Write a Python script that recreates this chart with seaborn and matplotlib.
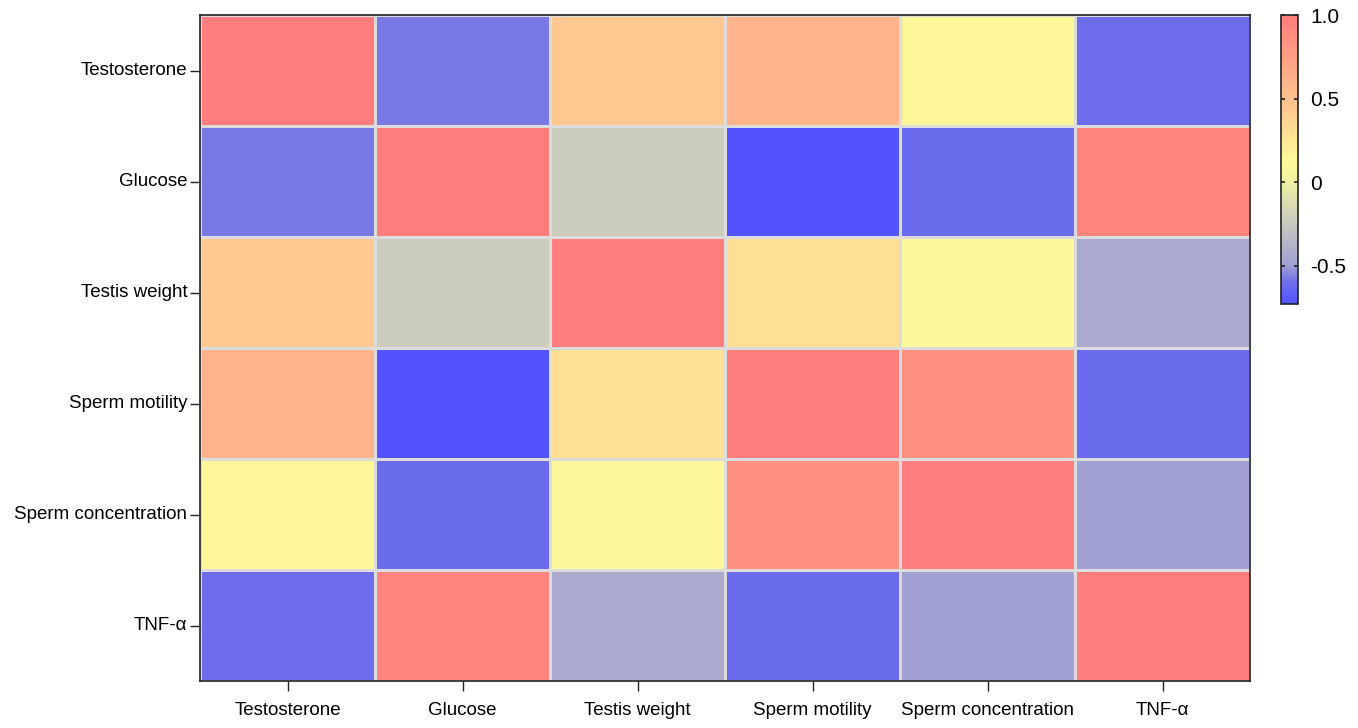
import numpy as np
import pandas as pd
import matplotlib
matplotlib.use("Agg")
import matplotlib.pyplot as plt
import seaborn as sns
from matplotlib.colors import LinearSegmentedColormap

# variables in the correlation matrix
labels = ["Testosterone", "Glucose", "Testis weight", "Sperm motility",
          "Sperm concentration", "TNF-α"]

# correlation rows
testosterone = [1.00, -0.58, 0.45, 0.60, 0.15, -0.61]
glucose = [-0.58, 1.00, -0.22, -0.73, -0.62, 0.95]
testis_weight = [0.45, -0.22, 1.00, 0.30, 0.10, -0.43]
sperm_motility = [0.60, -0.73, 0.30, 1.00, 0.85, -0.62]
sperm_conc = [0.15, -0.62, 0.10, 0.85, 1.00, -0.49]
tnf_alpha = [-0.61, 0.95, -0.43, -0.62, -0.49, 1.00]

df = pd.DataFrame([testosterone, glucose, testis_weight, sperm_motility,
                   sperm_conc, tnf_alpha], index=labels, columns=labels)

vmin, vmax = -0.73, 1.0
# colour stops: value -> colour
stops = [(-0.73, "#5252FF"), (-0.6, "#7070EA"), (-0.5, "#A0A0D4"),
         (-0.25, "#C9C9C0"), (0.0, "#EFF0A2"), (0.12, "#FFFA9A"),
         (0.5, "#FFC18E"), (1.0, "#FF7D7D")]
cmap = LinearSegmentedColormap.from_list(
    "corr", [((v - vmin) / (vmax - vmin), c) for v, c in stops])

plt.rcParams["font.family"] = ["Liberation Sans", "DejaVu Sans"]
fig = plt.figure(figsize=(13.58, 7.28), dpi=100)
ax = fig.add_axes([200 / 1358, 1 - 681 / 728, 1050 / 1358, 666 / 728])
cax = fig.add_axes([1281 / 1358, 1 - 304 / 728, 17 / 1358, 289 / 728])

sns.heatmap(df, ax=ax, cbar_ax=cax, cmap=cmap, vmin=vmin, vmax=vmax,
            linewidths=1, linecolor="#DCDCDC",
            cbar_kws={"ticks": [-0.5, 0, 0.5, 1.0]})

for s in ax.spines.values():
    s.set_visible(True)
    s.set_color("#222222")
    s.set_linewidth(1.2)

ax.tick_params(axis="both", length=7, width=1, color="#222222",
               labelcolor="black")
ax.tick_params(axis="y", labelsize=13.5, pad=2)
ax.tick_params(axis="x", labelsize=13.5, pad=8)
ax.set_xticklabels(labels, rotation=0)
ax.set_yticklabels(labels, rotation=0)
ax.set_xlabel("")
ax.set_ylabel("")

cbar = ax.collections[0].colorbar
cbar.outline.set_visible(True)
cbar.outline.set_edgecolor("#222222")
cbar.outline.set_linewidth(1.2)
cbar.ax.set_yticklabels(["-0.5", "0", "0.5", "1.0"])
cbar.ax.tick_params(direction="in", left=True, right=True, length=3,
                    width=1.2, labelsize=15, color="#222222", pad=9)

fig.savefig("out.png", dpi=100)
